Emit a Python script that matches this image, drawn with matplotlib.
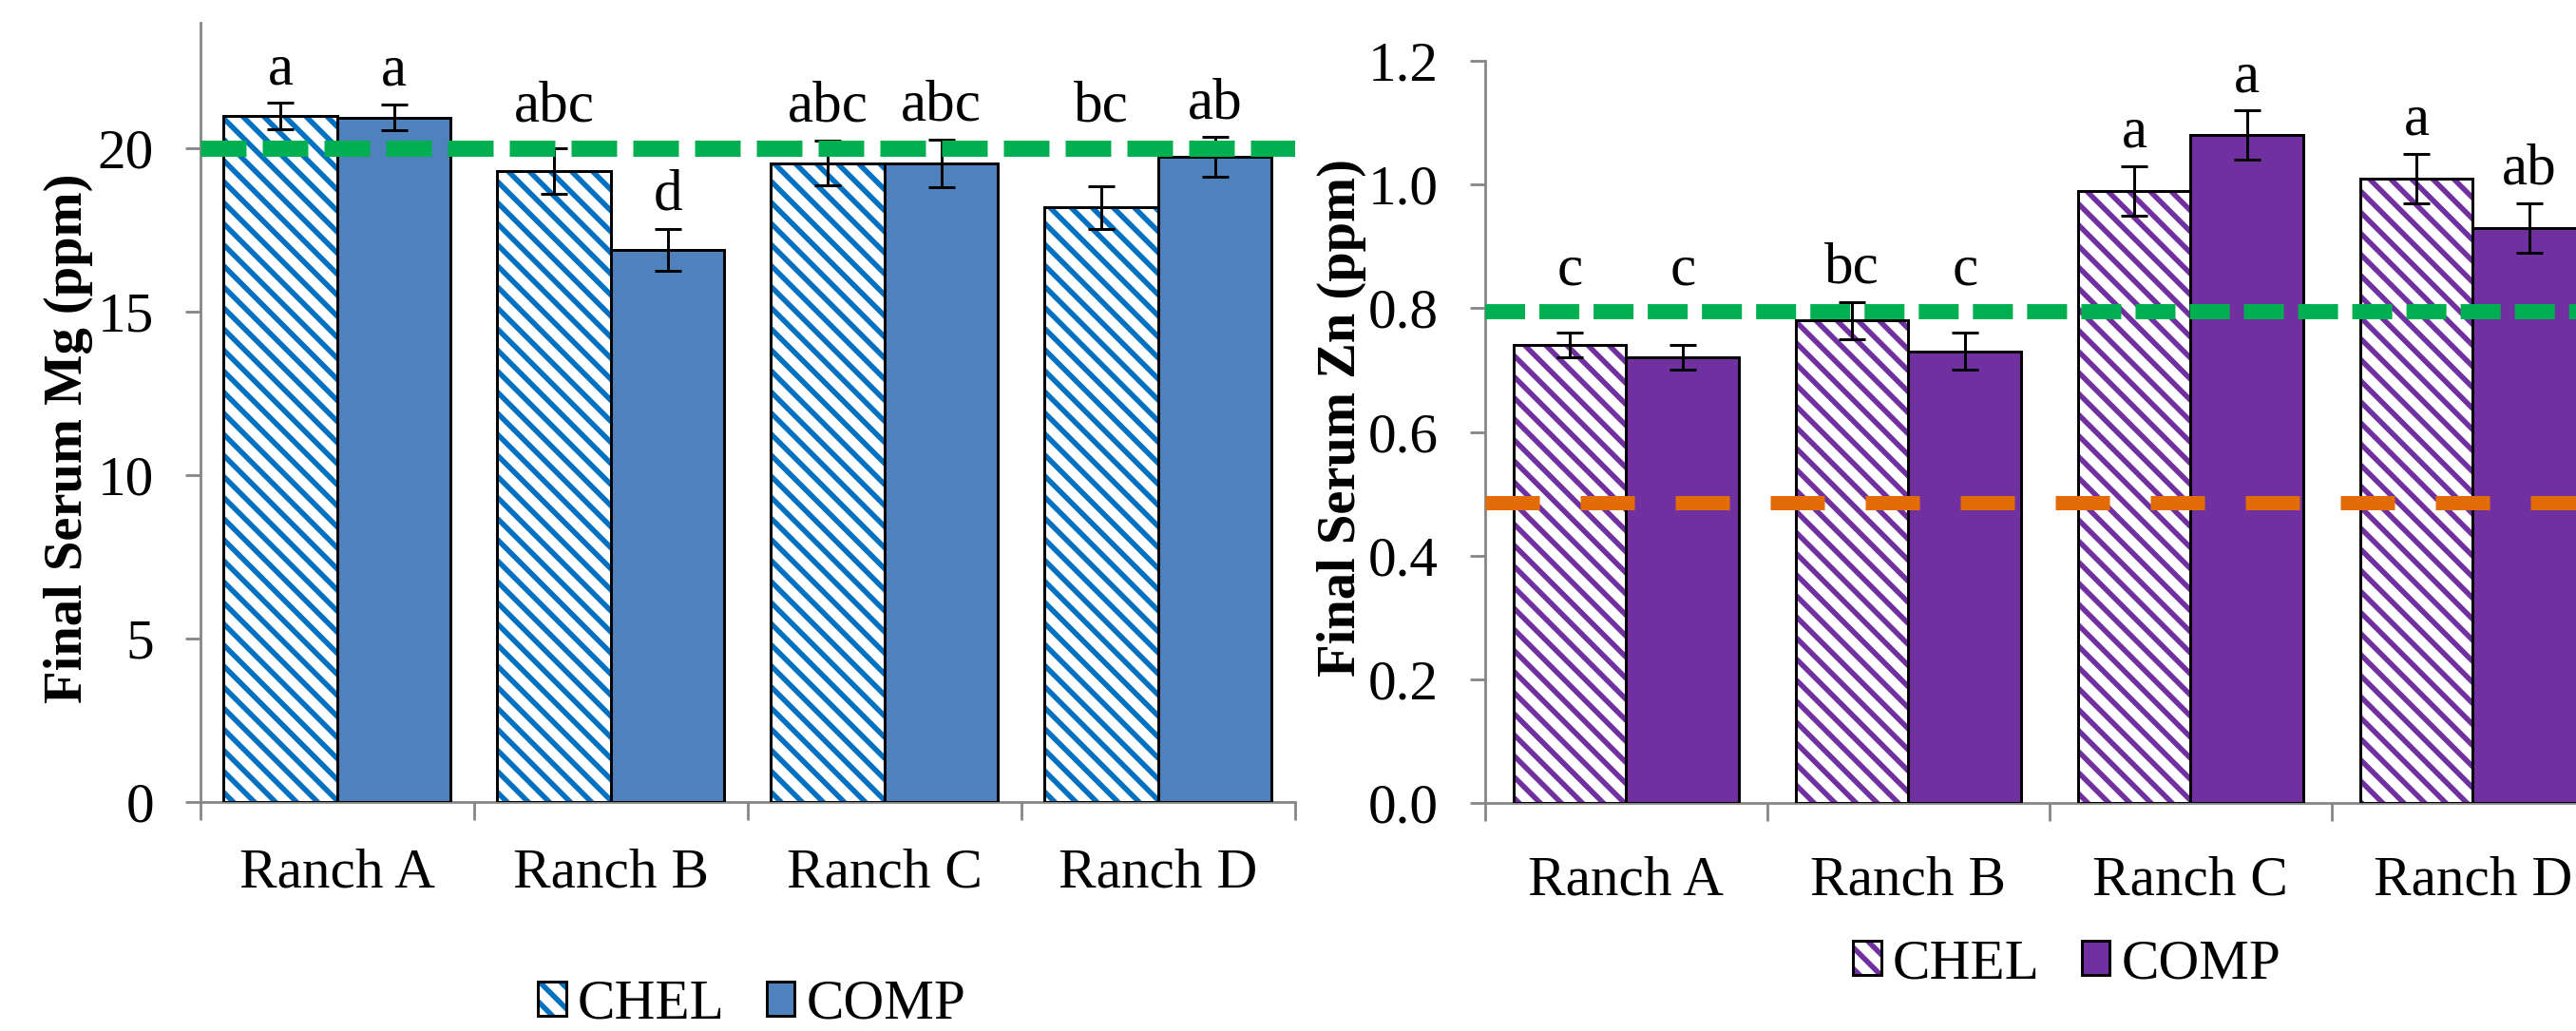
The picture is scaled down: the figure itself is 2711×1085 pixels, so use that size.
import matplotlib
matplotlib.use('Agg')
import matplotlib.pyplot as plt
import numpy as np
from matplotlib.patches import Patch
from matplotlib.colors import to_rgba
from matplotlib.ticker import FormatStrFormatter

# ---------------- data ----------------
ranches = ['Ranch A', 'Ranch B', 'Ranch C', 'Ranch D']
series = ['CHEL', 'COMP']

mg_chel = [21.0, 19.3, 19.55, 18.2]
mg_chel_err = [0.4, 0.7, 0.68, 0.65]
mg_comp = [20.95, 16.9, 19.55, 19.75]
mg_comp_err = [0.4, 0.65, 0.73, 0.6]
mg_chel_letters = ['a', 'abc', 'abc', 'bc']
mg_comp_letters = ['a', 'd', 'abc', 'ab']
mg_ref = 20
mg_ticks = [0, 5, 10, 15, 20]

zn_chel = [0.74, 0.78, 0.99, 1.01]
zn_chel_err = [0.02, 0.03, 0.04, 0.04]
zn_comp = [0.72, 0.73, 1.08, 0.93]
zn_comp_err = [0.02, 0.03, 0.04, 0.04]
zn_chel_letters = ['c', 'bc', 'a', 'a']
zn_comp_letters = ['c', 'c', 'a', 'ab']
zn_ref_high = 0.795
zn_ref_low = 0.485
zn_ticks = [0.0, 0.2, 0.4, 0.6, 0.8, 1.0, 1.2]

# ---------------- style ----------------
DPI = 400 / 3
plt.rcParams['font.family'] = ['Liberation Serif', 'DejaVu Serif']
plt.rcParams['hatch.linewidth'] = 3.0
plt.rcParams['lines.scale_dashes'] = False

GRAY = '#868686'
TICK_FS = 32
LET_FS = 33
LAB_FS = 30.5
HATCH = '\\\\'
GAP_PT = 10.8

fig = plt.figure(figsize=(2711 / DPI, 1085 / DPI), dpi=DPI)


def pt_to_data(ax, pts):
    p0 = ax.transData.transform((0, 0))
    p1 = ax.transData.transform((0, 1))
    return pts * DPI / 72.0 / (p1[1] - p0[1])


def draw(ax, chel, chel_err, comp, comp_err, hatch_col, comp_col, width,
         ylim, ticks, ylabel, xpad):
    x = np.arange(len(ranches))
    xc = x - width / 2
    xp = x + width / 2
    ax.set_xlim(-0.5, len(ranches) - 0.5)
    ax.set_ylim(*ylim)
    ax.bar(xc, chel, width, color='white', edgecolor=hatch_col,
           linewidth=0, hatch=HATCH, zorder=2)
    ax.bar(xc, chel, width, fill=False, edgecolor='black',
           linewidth=1.6, zorder=3)
    ax.bar(xp, comp, width, color=comp_col, edgecolor='black',
           linewidth=1.6, zorder=3)
    for xs, m, e in ((xc, chel, chel_err), (xp, comp, comp_err)):
        ax.errorbar(xs, m, yerr=e, fmt='none', ecolor='black',
                    elinewidth=1.6, capsize=7.8, capthick=1.6, zorder=4)
    ax.set_yticks(ticks)
    ax.set_xticks(np.arange(len(ranches) + 1) - 0.5)
    ax.set_xticklabels([])
    ax.set_xticks(x, minor=True)
    ax.set_xticklabels(ranches, minor=True)
    for s in ('top', 'right'):
        ax.spines[s].set_visible(False)
    for s in ('left', 'bottom'):
        ax.spines[s].set_color(GRAY)
        ax.spines[s].set_linewidth(1.5)
    ax.tick_params(axis='y', direction='out', length=8.6, width=1.5,
                   color=GRAY, pad=17.8, labelsize=TICK_FS)
    ax.tick_params(axis='x', which='major', direction='out', length=10.3,
                   width=1.5, color=GRAY)
    ax.tick_params(axis='x', which='minor', length=0, pad=xpad,
                   labelsize=TICK_FS)
    ax.set_ylabel(ylabel, fontsize=LAB_FS, fontweight='bold', va='center')
    return xc, xp


def add_letters(ax, xs, means, errs, letters, ref, ref_lw):
    half = pt_to_data(ax, ref_lw / 2)
    gap = pt_to_data(ax, GAP_PT)
    text_h = pt_to_data(ax, 0.72 * LET_FS)
    for xi, mi, ei, t in zip(xs, means, errs, letters):
        top = mi + ei
        collides = (top + gap + text_h > ref - half) and (top < ref + half)
        if collides:
            base, off = ref, ref_lw / 2 + GAP_PT
        else:
            base, off = top, GAP_PT
        ax.annotate(t, xy=(xi, base), xytext=(0, off),
                    textcoords='offset points', ha='center',
                    va='baseline', fontsize=LET_FS)


# Left panel: Mg
ax1 = fig.add_axes([0.0778, 0.2221, 0.4249, 0.7558])
xc1, xp1 = draw(ax1, mg_chel, mg_chel_err, mg_comp, mg_comp_err,
                '#0070C0', '#4F81BD', 0.415,
                (0, 23.85), mg_ticks, 'Final Serum Mg (ppm)', 26)
ax1.axhline(mg_ref, color='#00B050', lw=9.2, dashes=(25.9, 9.2), zorder=5)
add_letters(ax1, xc1, mg_chel, mg_chel_err, mg_chel_letters, mg_ref, 9.2)
add_letters(ax1, xp1, mg_comp, mg_comp_err, mg_comp_letters, mg_ref, 9.2)
ax1.yaxis.set_label_coords(-0.1207, 0.467)

# Right panel: Zn
ax2 = fig.add_axes([0.5765, 0.2212, 0.4382, 0.7198])
xc2, xp2 = draw(ax2, zn_chel, zn_chel_err, zn_comp, zn_comp_err,
                '#7030A0', '#7030A0', 0.40,
                (0, 1.2), zn_ticks, 'Final Serum Zn (ppm)', 30)
ax2.yaxis.set_major_formatter(FormatStrFormatter('%.1f'))
ax2.axhline(zn_ref_high, color='#00B050', lw=8.6, dashes=(22.7, 8.1), zorder=5)
ax2.axhline(zn_ref_low, color='#E36C09', lw=8.1, dashes=(30.8, 23.2), zorder=5)
add_letters(ax2, xc2, zn_chel, zn_chel_err, zn_chel_letters, zn_ref_high, 8.6)
add_letters(ax2, xp2, zn_comp, zn_comp_err, zn_comp_letters, zn_ref_high, 8.6)
ax2.yaxis.set_label_coords(-0.127, 0.519)


def add_legend(hatch_col, comp_col, anchor):
    h_chel = Patch(facecolor='white', edgecolor='black', linewidth=1.6,
                   hatch=HATCH)
    h_chel._hatch_color = to_rgba(hatch_col)
    h_comp = Patch(facecolor=comp_col, edgecolor='black', linewidth=1.6)
    leg = fig.legend([h_chel, h_comp], series, loc='center',
                     bbox_to_anchor=anchor, ncol=2, frameon=False,
                     fontsize=TICK_FS, handlelength=0.5, handleheight=0.55,
                     handletextpad=0.2, columnspacing=0.75, borderpad=0.1)
    hs = getattr(leg, 'legend_handles', None) or leg.legendHandles
    hs[0]._hatch_color = to_rgba(hatch_col)


add_legend('#0070C0', '#4F81BD', (0.2918, 0.025))
add_legend('#7030A0', '#7030A0', (0.8023, 0.0645))

fig.savefig('out.png', dpi=DPI)
